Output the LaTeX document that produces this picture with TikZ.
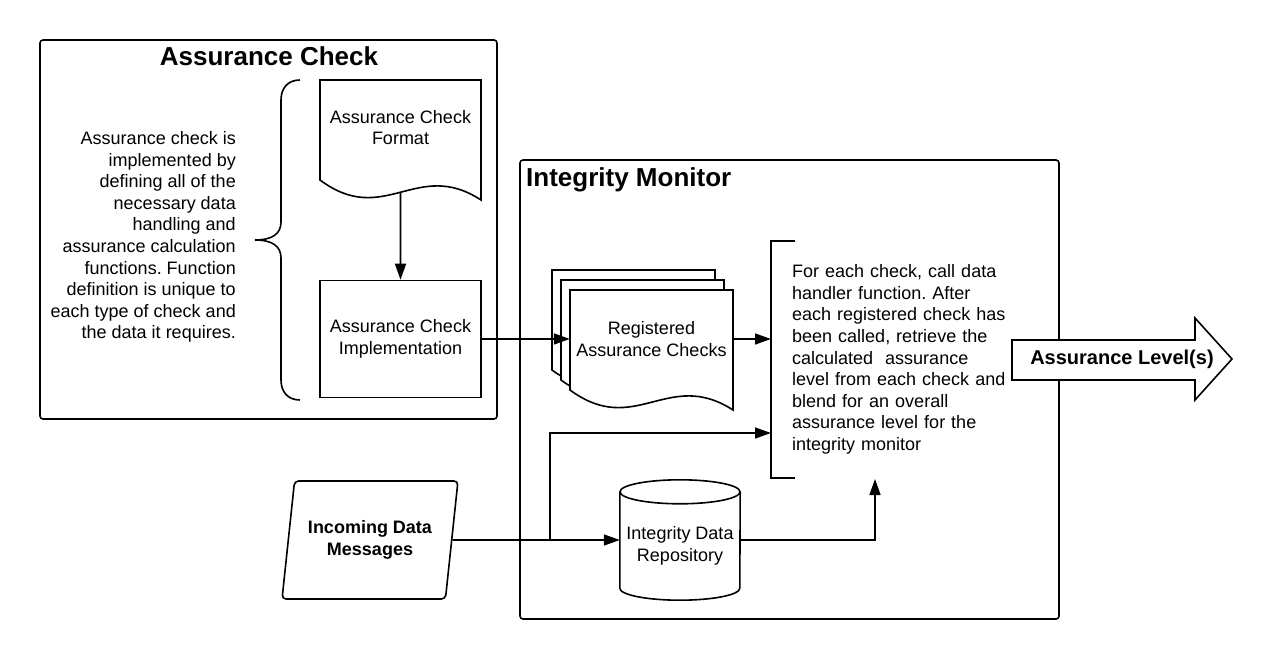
\documentclass[tikz,border=0pt]{standalone}
\usepackage{fontspec}
\setmainfont{Liberation Sans}
\frenchspacing
\usetikzlibrary{arrows.meta,shapes.geometric,calc}
\tikzset{
  line/.style={line width=1.6pt},
  arr/.style={line, -{Triangle[length=16pt,width=11pt]}},
  frame/.style={line, rounded corners=3pt},
  txt/.style={font=\fontsize{18}{21.6}\selectfont, inner sep=0pt},
  boldtxt/.style={font=\fontsize{18}{21.6}\selectfont\bfseries, inner sep=0pt},
  heading/.style={font=\fontsize{26}{30}\selectfont\bfseries, inner sep=0pt},
}
% document outline: x, y, width, name of the point in the middle of the wave
\newcommand{\docshape}[4]{%
  \filldraw[line, fill=white] (#1,#2) -- ({#1+#3},#2) -- ({#1+#3},{#2+120})
    .. controls ({#1+0.6*#3},{#2+78}) and ({#1+0.4*#3},{#2+148}) .. (#1,{#2+100})
    coordinate[pos=0.5] (#4) -- cycle;
}

\begin{document}
\begin{tikzpicture}[x=1pt,y=-1pt]
\useasboundingbox (0,0) rectangle (1272,660);

% assurance check
\draw[frame] (40,40) rectangle (497,419);
\node[heading, anchor=base] (achead) at (269,66) {Assurance Check};
\node[txt, anchor=east, align=right] (acdesc) at (236,237) {Assurance check is\\implemented by\\defining all of the\\necessary data\\handling and\\assurance calculation\\functions. Function\\definition is unique to\\each type of check and\\the data it requires.};

\draw[line] (300,80) .. controls (288,80) and (281,88) .. (281,100) -- (281,222)
  .. controls (281,234) and (272,240) .. (255,240)
  .. controls (272,240) and (281,246) .. (281,258) -- (281,380)
  .. controls (281,392) and (288,400) .. (300,400);

\docshape{320}{80}{161}{fmtwave}
\node[txt, align=center] (fmt) at (400.5,127.5) {Assurance Check\\Format};
\node[txt, draw, line, align=center, minimum width=161pt, minimum height=117pt] (impl) at (400.5,339) {Assurance Check\\Implementation};
\draw[arr] (fmtwave) -- (impl);

% integrity monitor
\draw[frame] (520,160) rectangle (1059,619);
\node[heading, anchor=base west] (imhead) at (526,187) {Integrity Monitor};

\docshape{552}{270}{163}{regback}
\docshape{561}{280}{163}{regmid}
\docshape{570}{290}{163}{regwave}
\node[txt, align=center, minimum width=163pt, minimum height=100pt] (reg) at (651.5,339) {Registered\\Assurance Checks};
\draw[arr] (impl) -- (reg);

\node[txt, align=left, anchor=west, text width=240pt, inner xsep=21pt, minimum height=237pt] (loop) at (771,359.5) {For each check, call data\\handler function. After\\each registered check has\\been called, retrieve the\\calculated~ assurance\\level from each check and\\blend for an overall\\assurance level for the\\integrity monitor};
\draw[line] ($(loop.north west)+(24,0)$) -- (loop.north west) -- (loop.south west) -- ++(24,0);
\draw[arr] (reg.east) -- (reg.east -| loop.west);

\node[boldtxt, draw, line, trapezium, trapezium left angle=75, trapezium right angle=105, trapezium stretches=true, minimum width=176pt, minimum height=118pt, rounded corners=4pt, align=center] (msg) at (370,540) {Incoming Data\\Messages};

\node[txt, align=center, minimum width=120pt, minimum height=108pt] (repo) at (680,546) {Integrity Data\\Repository};
\draw[line] (repo.north) ellipse [x radius=60pt, y radius=12pt];
\draw[line] (repo.north west) -- ($(repo.south west)+(0,-12)$) arc[start angle=180, end angle=360, x radius=60pt, y radius=12pt] -- (repo.north east);

\coordinate (split) at (550,540);
\coordinate (loopin) at (771,433);
\coordinate (lvlin) at (875,479);
\draw[arr] (msg) -- (msg -| repo.west);
\draw[arr] (split) |- (loopin);
\draw[arr] (repo.east |- msg) -| (lvlin);

% output
\filldraw[line, fill=white] (1012,340) -- (1195,340) -- (1195,318) -- (1232,359) -- (1195,400) -- (1195,380) -- (1012,380) -- cycle;
\node[font=\fontsize{20}{24}\selectfont\bfseries, inner sep=0pt] (lvl) at (1122,359) {Assurance Level(s)};

\end{tikzpicture}
\end{document}
